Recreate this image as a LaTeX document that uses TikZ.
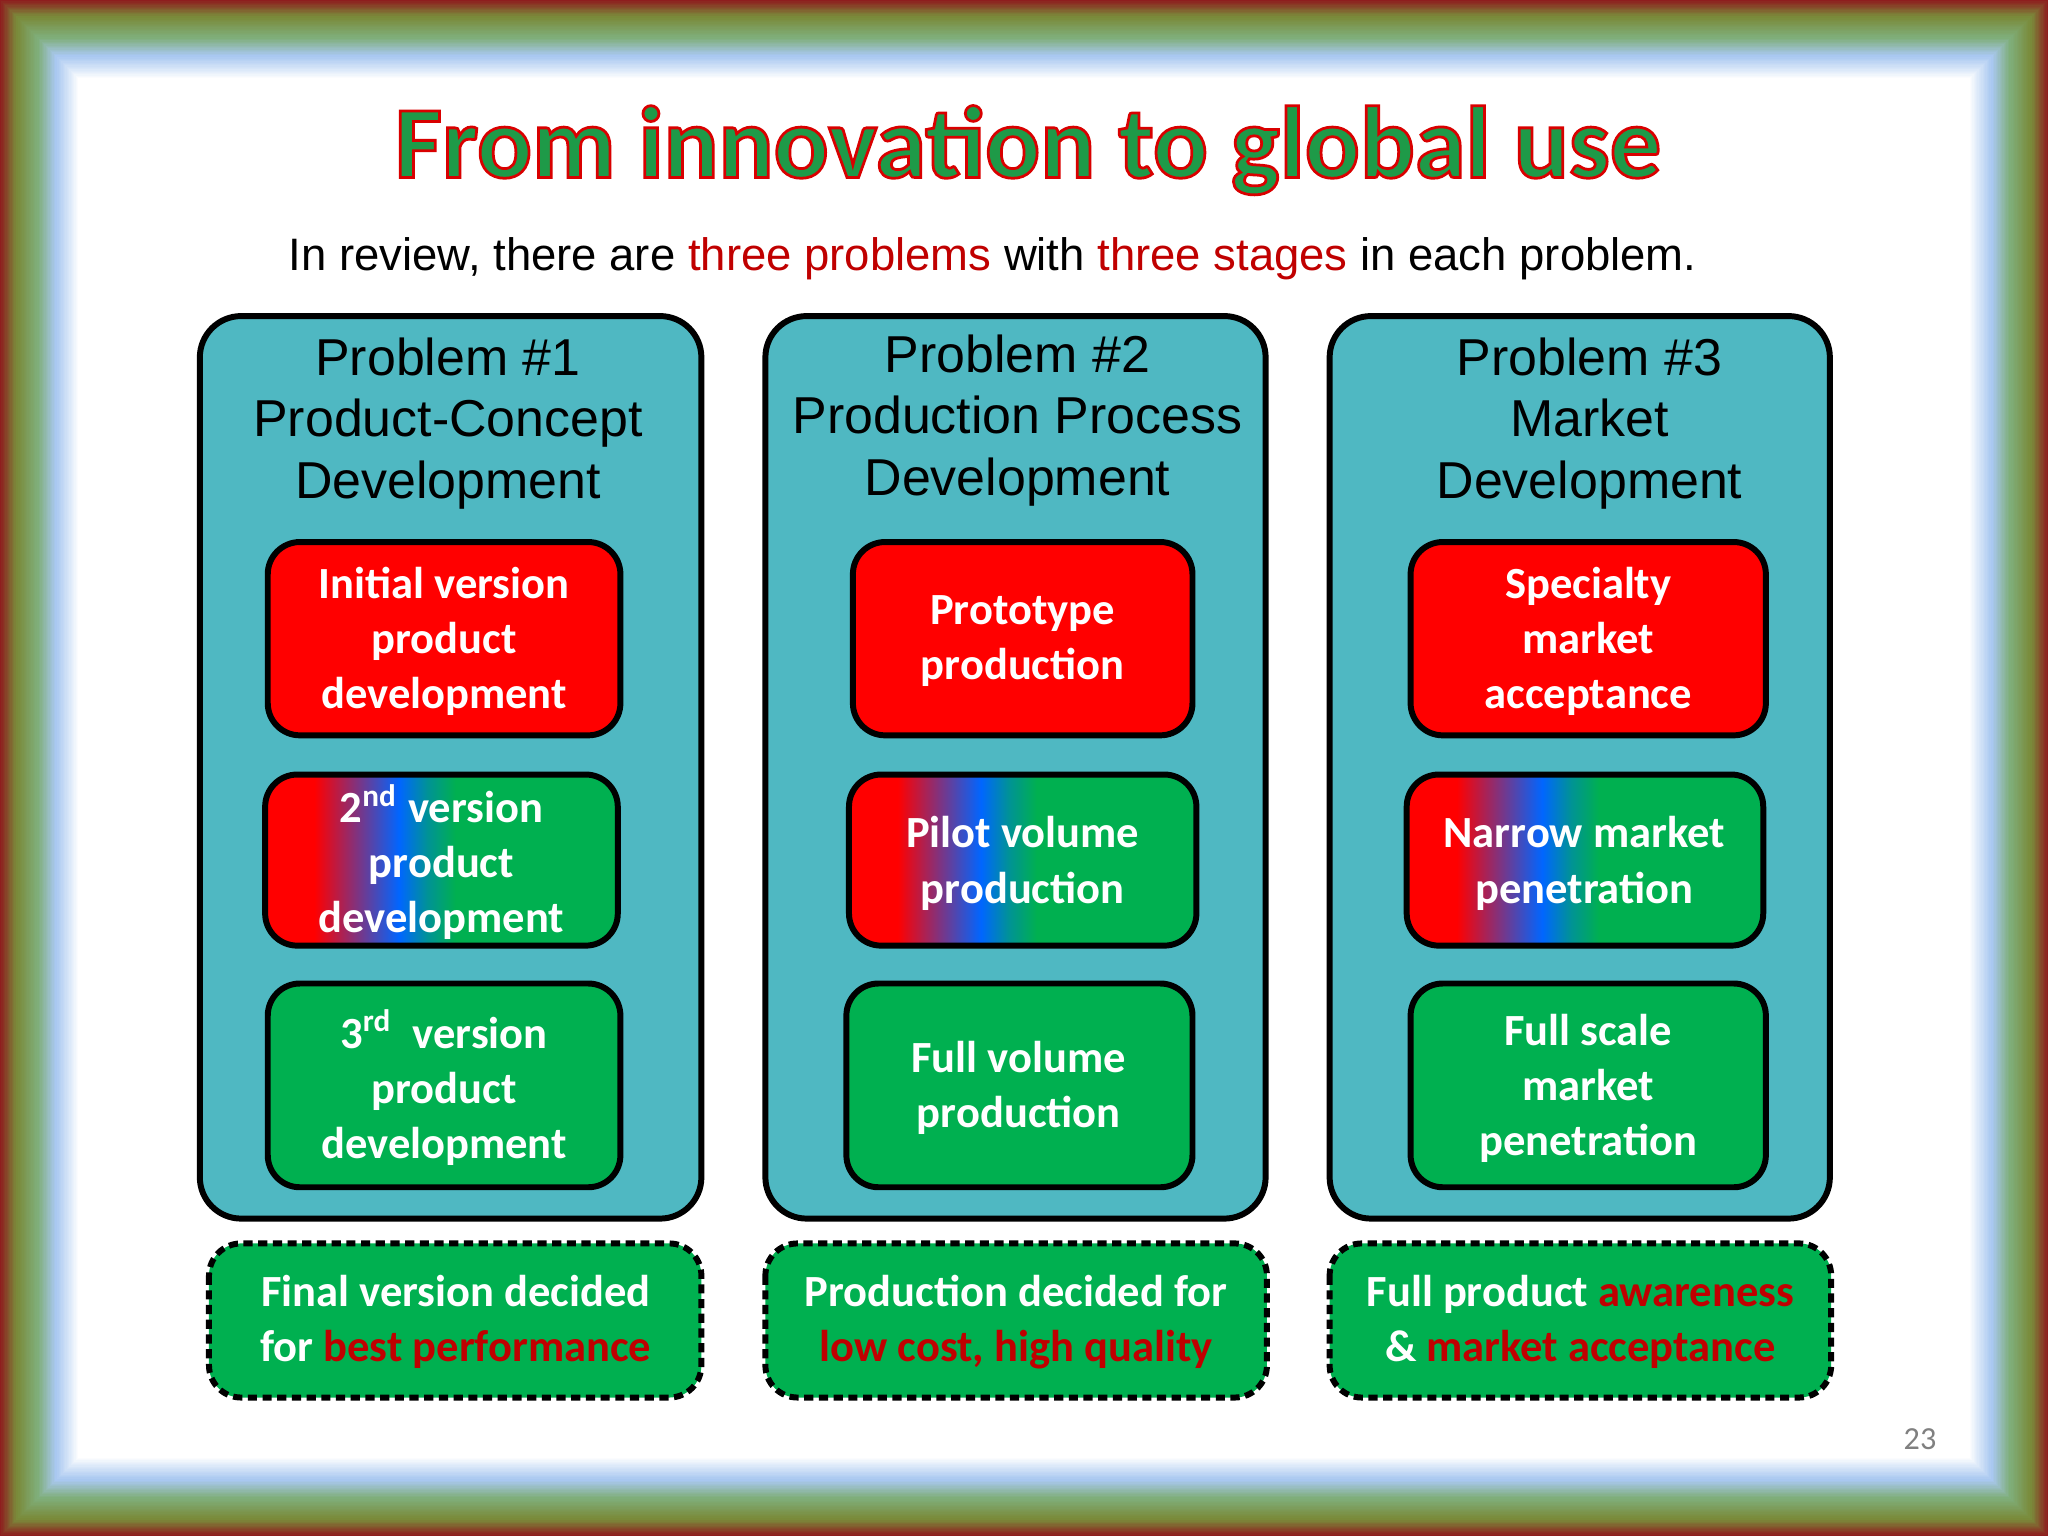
\documentclass[tikz,border=0pt]{standalone}
\usepackage{fontspec}
\setmainfont{Carlito}
\newfontfamily\arial{Liberation Sans}
\usetikzlibrary{shadings}
\definecolor{gr}{HTML}{00B050}
\definecolor{rd}{HTML}{FF0000}
\definecolor{tl}{HTML}{4FB8C2}
\definecolor{dred}{HTML}{C00000}
\definecolor{tgreen}{HTML}{1E9A48}
\definecolor{fA}{HTML}{8E1E1E}
\definecolor{fB}{HTML}{7A8A3A}
\definecolor{fC}{HTML}{7FAE7A}
\definecolor{fD}{HTML}{A9C8F0}
\definecolor{bl}{HTML}{0066FF}
\pgfdeclarehorizontalshading{rbg}{100bp}{color(0bp)=(rd); color(32bp)=(rd); color(38bp)=(rd!50!bl); color(44bp)=(bl); color(48bp)=(bl!40!gr); color(52bp)=(gr); color(100bp)=(gr)}
\tikzset{
 panel/.style={draw=black,line width=1.3pt,fill=tl,rounded corners=9pt},
 stage/.style={draw=black,line width=1.3pt,rounded corners=7pt},
 redstage/.style={stage,fill=rd},
 grstage/.style={stage,fill=gr},
 mixstage/.style={stage,shading=rbg},
 result/.style={draw=black,line width=1.3pt,dash pattern=on 2pt off 1.2pt,fill=gr,rounded corners=7pt},
 head/.style={font=\arial\fontsize{11.3}{13.4}\selectfont,align=center},
 st/.style={text=white,font=\fontsize{9.7}{12}\selectfont\bfseries,align=center}
}
\begin{document}
\begin{tikzpicture}[x=0.01cm,y=-0.01cm]
\useasboundingbox (0,0) rectangle (1568,1176);
% frame glow
\foreach \i in {0,...,12}{\pgfmathtruncatemacro\p{100-\i*100/12}
 \fill[fA!\p!fB] (\i,\i) rectangle (1568-\i,1176-\i);}
\foreach \i in {13,...,28}{\pgfmathtruncatemacro\p{100-(\i-13)*100/15}
 \fill[fB!\p!fC] (\i,\i) rectangle (1568-\i,1176-\i);}
\foreach \i in {29,...,42}{\pgfmathtruncatemacro\p{100-(\i-29)*100/13}
 \fill[fC!\p!fD] (\i,\i) rectangle (1568-\i,1176-\i);}
\foreach \i in {43,...,60}{\pgfmathtruncatemacro\p{100-(\i-43)*100/17}
 \fill[fD!\p!white] (\i,\i) rectangle (1568-\i,1176-\i);}
% title
\node[font=\fontsize{22.3}{26}\selectfont\bfseries,text=tgreen] (title) at (787,115) {\special{pdf:literal 2 Tr 0.6 w 0.85 0 0 RG}From innovation to global use\special{pdf:literal 0 Tr}};
\node[font=\arial\fontsize{9.9}{11}\selectfont] (sub) at (760,198) {In review, there are \textcolor{dred}{three problems} with \textcolor{dred}{three stages} in each problem.};
% panels
\draw[panel] (153,242) rectangle (537,933);
\draw[panel] (586,242) rectangle (969,933);
\draw[panel] (1018,242) rectangle (1401,933);
\node[head] (h1) at (343,324) {Problem \#1\\Product-Concept\\Development};
\node[head] (h2) at (779,322) {Problem \#2\\Production Process\\Development};
\node[head] (h3) at (1217,324) {Problem \#3\\Market\\Development};
% stages
\draw[redstage] (205,415) rectangle (475,563);
\draw[mixstage] (203,593) rectangle (473,724);
\draw[grstage] (205,753) rectangle (475,909);
\draw[redstage] (653,415) rectangle (913,563);
\draw[mixstage] (650,593) rectangle (916,724);
\draw[grstage] (648,753) rectangle (913,909);
\draw[redstage] (1080,415) rectangle (1352,563);
\draw[mixstage] (1077,593) rectangle (1350,724);
\draw[grstage] (1080,753) rectangle (1352,909);
\node[st] (s11) at (340,491) {Initial version\\product\\development};
\node[st] (s12) at (338,660) {2\textsuperscript{nd} version\\product\\development};
\node[st] (s13) at (340,833) {3\textsuperscript{rd}\ \ version\\product\\development};
\node[st] (s21) at (783,491) {Prototype\\production};
\node[st] (s22) at (783,661) {Pilot volume\\production};
\node[st] (s23) at (780,833) {Full volume\\production};
\node[st] (s31) at (1216,491) {Specialty\\market\\acceptance};
\node[st] (s32) at (1213,661) {Narrow market\\penetration};
\node[st] (s33) at (1216,833) {Full scale\\market\\penetration};
% results
\draw[result] (160,952) rectangle (537,1070);
\draw[result] (586,952) rectangle (970,1070);
\draw[result] (1018,952) rectangle (1402,1070);
\node[st] (r1) at (349,1012) {Final version decided\\for \textcolor{dred}{best performance}};
\node[st] (r2) at (778,1012) {Production decided for\\\textcolor{dred}{low cost, high quality}};
\node[st] (r3) at (1210,1012) {Full product \textcolor{dred}{awareness}\\\& \textcolor{dred}{market acceptance}};
\node[font=\fontsize{7}{8}\selectfont,text=gray] (pn) at (1470,1102) {23};
\end{tikzpicture}
\end{document}
